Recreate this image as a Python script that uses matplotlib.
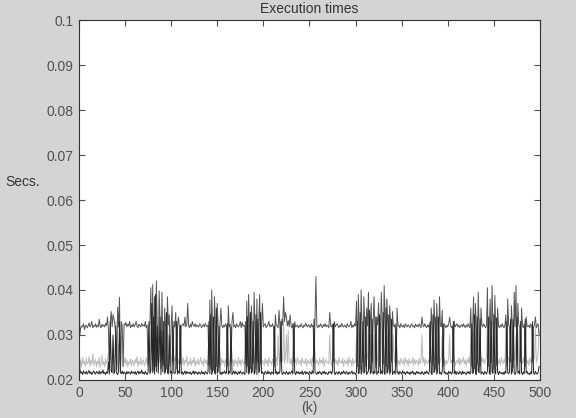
import numpy as np
import matplotlib.pyplot as plt

# execution times per step, in units of 0.1 ms
upper_series = [
    570, 300, 315, 320, 318, 325, 312, 320, 322, 316,
    320, 327, 318, 322, 330, 316, 321, 319, 325, 317,
    322, 318, 335, 320, 316, 324, 319, 322, 318, 326,
    321, 340, 310, 225, 330, 352, 318, 345, 336, 322,
    300, 225, 362, 318, 384, 220, 330, 318, 230, 325,
    322, 328, 318, 324, 320, 330, 316, 322, 319, 325,
    318, 323, 330, 320, 316, 324, 321, 318, 326, 320,
    322, 319, 330, 316, 322, 230, 318, 325, 405, 260,
    412, 220, 385, 230, 420, 310, 240, 398, 330, 225,
    395, 300, 232, 360, 318, 225, 385, 322, 345, 230,
    320, 365, 240, 330, 318, 350, 225, 322, 340, 316,
    235, 318, 322, 325, 320, 340, 318, 322, 370, 320,
    316, 324, 318, 330, 322, 319, 325, 318, 322, 320,
    318, 325, 322, 316, 320, 323, 318, 326, 321, 319,
    322, 232, 378, 225, 400, 310, 222, 385, 320, 230,
    370, 318, 228, 325, 360, 320, 316, 322, 318, 325,
    320, 230, 365, 318, 324, 240, 330, 350, 318, 322,
    316, 325, 320, 318, 322, 330, 316, 328, 319, 322,
    318, 235, 375, 230, 390, 320, 225, 365, 318, 238,
    395, 315, 225, 380, 240, 330, 390, 235, 320, 370,
    318, 322, 325, 316, 320, 323, 330, 318, 322, 319,
    325, 318, 230, 345, 322, 320, 316, 355, 318, 240,
    335, 322, 385, 330, 350, 340, 320, 332, 318, 345,
    322, 316, 325, 240, 330, 318, 320, 322, 316, 321,
    318, 325, 320, 316, 322, 319, 326, 320, 318, 323,
    320, 316, 325, 318, 322, 240, 330, 430, 320, 316,
    322, 318, 325, 320, 316, 323, 319, 325, 318, 322,
    320, 316, 350, 320, 318, 324, 240, 330, 318, 322,
    325, 320, 316, 322, 318, 326, 320, 318, 322, 319,
    316, 325, 320, 318, 322, 330, 316, 322, 318, 325,
    320, 375, 230, 390, 320, 225, 400, 318, 240, 385,
    322, 230, 360, 320, 395, 225, 330, 370, 240, 320,
    385, 316, 228, 340, 322, 372, 230, 318, 395, 325,
    235, 410, 320, 230, 380, 318, 225, 365, 330, 240,
    352, 320, 318, 325, 230, 360, 320, 322, 316, 325,
    320, 318, 322, 316, 325, 320, 318, 323, 320, 316,
    322, 325, 318, 320, 316, 324, 319, 322, 318, 325,
    320, 316, 340, 322, 318, 325, 320, 316, 322, 318,
    325, 240, 360, 320, 232, 378, 318, 225, 370, 322,
    235, 385, 320, 318, 355, 230, 325, 320, 316, 322,
    318, 325, 340, 322, 316, 320, 240, 330, 318, 322,
    325, 318, 322, 316, 320, 323, 318, 325, 320, 316,
    322, 318, 325, 320, 316, 360, 230, 322, 385, 225,
    370, 318, 235, 395, 320, 230, 360, 322, 318, 325,
    320, 316, 322, 405, 230, 318, 380, 240, 410, 320,
    225, 388, 318, 232, 360, 320, 316, 322, 318, 325,
    320, 316, 322, 345, 230, 380, 322, 318, 240, 365,
    320, 228, 395, 318, 410, 230, 370, 322, 318, 240,
    360, 320, 316, 325, 230, 340, 320, 318, 322, 316,
    325, 320, 240, 318, 322, 340, 316, 322, 325, 300,
]

lower_series = [
    300, 225, 215, 218, 212, 220, 216, 214, 219, 213,
    217, 221, 214, 218, 212, 216, 220, 215, 213, 219,
    216, 214, 220, 213, 218, 215, 222, 214, 217, 212,
    218, 215, 240, 213, 330, 220, 216, 300, 214, 219,
    320, 215, 212, 218, 330, 216, 214, 220, 213, 218,
    215, 212, 219, 214, 218, 216, 213, 220, 215, 217,
    214, 219, 212, 216, 220, 213, 218, 215, 222, 214,
    217, 213, 219, 215, 212, 218, 330, 214, 220, 370,
    216, 340, 213, 390, 218, 320, 215, 260, 340, 212,
    310, 218, 330, 214, 220, 350, 216, 213, 300, 215,
    219, 212, 320, 216, 214, 218, 330, 213, 220, 215,
    322, 214, 218, 212, 216, 220, 213, 219, 215, 217,
    214, 218, 212, 216, 220, 213, 219, 215, 217, 212,
    218, 215, 213, 220, 214, 217, 212, 219, 216, 213,
    218, 330, 214, 345, 212, 220, 340, 216, 213, 360,
    215, 219, 320, 213, 217, 212, 218, 215, 220, 214,
    216, 325, 213, 219, 215, 318, 212, 216, 220, 213,
    219, 215, 212, 218, 214, 220, 216, 213, 217, 215,
    212, 330, 216, 340, 213, 218, 350, 215, 219, 330,
    213, 217, 345, 212, 335, 216, 220, 350, 214, 218,
    215, 212, 219, 216, 213, 220, 214, 217, 212, 218,
    216, 213, 320, 215, 219, 212, 218, 214, 220, 330,
    215, 212, 218, 216, 213, 219, 215, 212, 218, 214,
    216, 220, 213, 325, 217, 212, 219, 215, 218, 213,
    217, 214, 220, 212, 216, 219, 213, 218, 215, 212,
    219, 216, 213, 220, 214, 335, 217, 215, 212, 218,
    214, 219, 216, 212, 218, 215, 220, 213, 217, 214,
    212, 218, 216, 219, 213, 220, 325, 215, 212, 218,
    216, 213, 219, 215, 212, 218, 214, 220, 216, 213,
    219, 215, 212, 218, 214, 216, 220, 213, 217, 215,
    212, 218, 330, 214, 216, 350, 213, 219, 330, 215,
    218, 340, 212, 216, 220, 355, 214, 217, 335, 213,
    219, 215, 340, 212, 218, 216, 345, 214, 220, 213,
    350, 216, 212, 360, 215, 218, 345, 213, 219, 335,
    212, 216, 220, 213, 320, 215, 218, 212, 219, 216,
    213, 220, 215, 218, 212, 216, 219, 214, 217, 212,
    218, 215, 220, 213, 216, 212, 219, 215, 218, 214,
    216, 213, 219, 215, 212, 218, 214, 220, 216, 213,
    219, 330, 215, 212, 345, 216, 220, 340, 213, 218,
    340, 214, 217, 212, 219, 325, 215, 218, 213, 216,
    212, 219, 215, 218, 213, 216, 330, 214, 220, 212,
    218, 215, 213, 219, 216, 212, 220, 214, 217, 215,
    212, 218, 215, 219, 213, 216, 325, 214, 218, 345,
    215, 212, 340, 219, 216, 335, 213, 218, 215, 212,
    219, 216, 213, 220, 340, 215, 212, 330, 218, 214,
    345, 216, 213, 338, 218, 212, 219, 215, 216, 213,
    217, 212, 219, 215, 330, 216, 214, 218, 335, 213,
    219, 335, 216, 212, 218, 340, 215, 219, 213, 330,
    216, 212, 218, 214, 335, 216, 219, 213, 215, 212,
    218, 214, 330, 216, 212, 219, 215, 213, 217, 230,
]

light_series = [
    240, 232, 245, 228, 250, 236, 242, 230, 248, 235,
    238, 252, 230, 244, 236, 258, 232, 240, 246, 229,
    242, 235, 250, 228, 238, 255, 233, 241, 229, 247,
    236, 244, 260, 232, 300, 238, 250, 290, 235, 243,
    330, 240, 232, 280, 246, 236, 300, 229, 242, 238,
    250, 233, 245, 229, 240, 236, 248, 231, 244, 238,
    232, 246, 238, 252, 230, 241, 235, 249, 233, 240,
    245, 231, 238, 250, 236, 242, 300, 234, 330, 245,
    280, 238, 360, 240, 300, 250, 232, 330, 240, 290,
    236, 330, 244, 232, 300, 240, 350, 236, 248, 280,
    238, 244, 300, 234, 250, 242, 310, 236, 245, 232,
    300, 240, 236, 250, 232, 244, 238, 252, 230, 241,
    235, 248, 232, 244, 238, 250, 230, 242, 236, 246,
    233, 240, 250, 236, 242, 230, 248, 238, 244, 232,
    246, 300, 238, 320, 244, 236, 330, 242, 250, 310,
    240, 236, 300, 244, 232, 248, 238, 243, 230, 246,
    236, 310, 242, 232, 248, 300, 238, 244, 230, 246,
    238, 242, 230, 250, 236, 244, 232, 246, 240, 235,
    244, 300, 238, 340, 240, 250, 320, 236, 244, 300,
    238, 246, 330, 240, 310, 232, 248, 340, 236, 244,
    240, 232, 248, 236, 244, 230, 250, 238, 242, 234,
    246, 238, 300, 240, 250, 232, 300, 244, 236, 330,
    240, 244, 330, 236, 250, 300, 238, 310, 242, 236,
    248, 232, 240, 300, 238, 246, 234, 250, 240, 236,
    244, 232, 250, 238, 242, 236, 248, 230, 244, 240,
    236, 246, 232, 250, 238, 300, 242, 236, 244, 240,
    232, 248, 238, 244, 236, 250, 230, 242, 246, 238,
    240, 236, 300, 244, 232, 250, 310, 238, 246, 236,
    244, 232, 250, 238, 242, 236, 248, 230, 244, 240,
    236, 246, 232, 250, 238, 244, 230, 248, 236, 242,
    240, 300, 236, 330, 244, 250, 310, 238, 300, 246,
    236, 320, 244, 250, 340, 238, 300, 246, 310, 236,
    300, 242, 330, 236, 250, 320, 238, 244, 340, 236,
    310, 246, 236, 380, 244, 300, 238, 320, 246, 300,
    236, 300, 244, 238, 310, 250, 236, 244, 232, 248,
    240, 236, 246, 232, 250, 238, 244, 230, 248, 236,
    242, 238, 250, 232, 246, 236, 244, 240, 232, 248,
    236, 244, 300, 238, 250, 232, 246, 240, 236, 244,
    238, 310, 246, 236, 320, 244, 250, 300, 238, 246,
    330, 236, 244, 250, 300, 238, 246, 232, 244, 236,
    240, 250, 300, 238, 244, 236, 300, 246, 232, 240,
    244, 236, 250, 232, 246, 238, 242, 250, 236, 244,
    232, 246, 238, 250, 236, 300, 320, 244, 310, 236,
    300, 246, 238, 320, 244, 300, 236, 250, 240, 246,
    236, 244, 250, 340, 238, 246, 310, 236, 300, 244,
    330, 238, 250, 320, 244, 236, 246, 232, 250, 240,
    236, 246, 238, 300, 320, 244, 250, 236, 310, 244,
    236, 330, 244, 250, 300, 238, 310, 246, 236, 320,
    244, 236, 250, 238, 300, 246, 236, 244, 232, 250,
    240, 236, 300, 244, 250, 320, 238, 246, 260, 310,
]

x_ticks = [0, 50, 100, 150, 200, 250, 300, 350, 400, 450, 500]
y_ticks = [0.02, 0.03, 0.04, 0.05, 0.06, 0.07, 0.08, 0.09, 0.1]
y_tick_labels = ["0.02", "0.03", "0.04", "0.05", "0.06", "0.07", "0.08", "0.09", "0.1"]

plt.rcParams["font.family"] = ["Liberation Sans", "DejaVu Sans"]

steps = np.arange(len(upper_series))
upper = np.array(upper_series) / 1e4
lower = np.array(lower_series) / 1e4
light = np.array(light_series) / 1e4

fig = plt.figure(figsize=(5.76, 4.18), dpi=100, facecolor="#d4d4d4")
ax = fig.add_axes([0.137, 0.091, 0.8005, 0.861])
ax.set_facecolor("white")

ax.plot(steps, light, color="#bdbdbd", linewidth=0.75)
ax.plot(steps, upper, color="#555555", linewidth=0.7)
ax.plot(steps, lower, color="#262626", linewidth=0.7)

ax.set_xlim(0, 500)
ax.set_ylim(0.02, 0.1)
ax.set_xticks(x_ticks)
ax.set_yticks(y_ticks)
ax.set_yticklabels(y_tick_labels)
ax.tick_params(direction="in", top=True, right=True, length=4, width=0.8,
               labelsize=10, colors="#505050", pad=4)
for spine in ax.spines.values():
    spine.set_color("#333333")
    spine.set_linewidth(0.8)

ax.set_title("Execution times", fontsize=10, color="#333333", pad=5)
ax.set_xlabel("(k)", fontsize=10, color="#505050", labelpad=1)
fig.text(0.01, 1 - 182 / 418, "Secs.", fontsize=10, color="#333333", va="center")

fig.savefig("out.png", dpi=100, facecolor=fig.get_facecolor())
